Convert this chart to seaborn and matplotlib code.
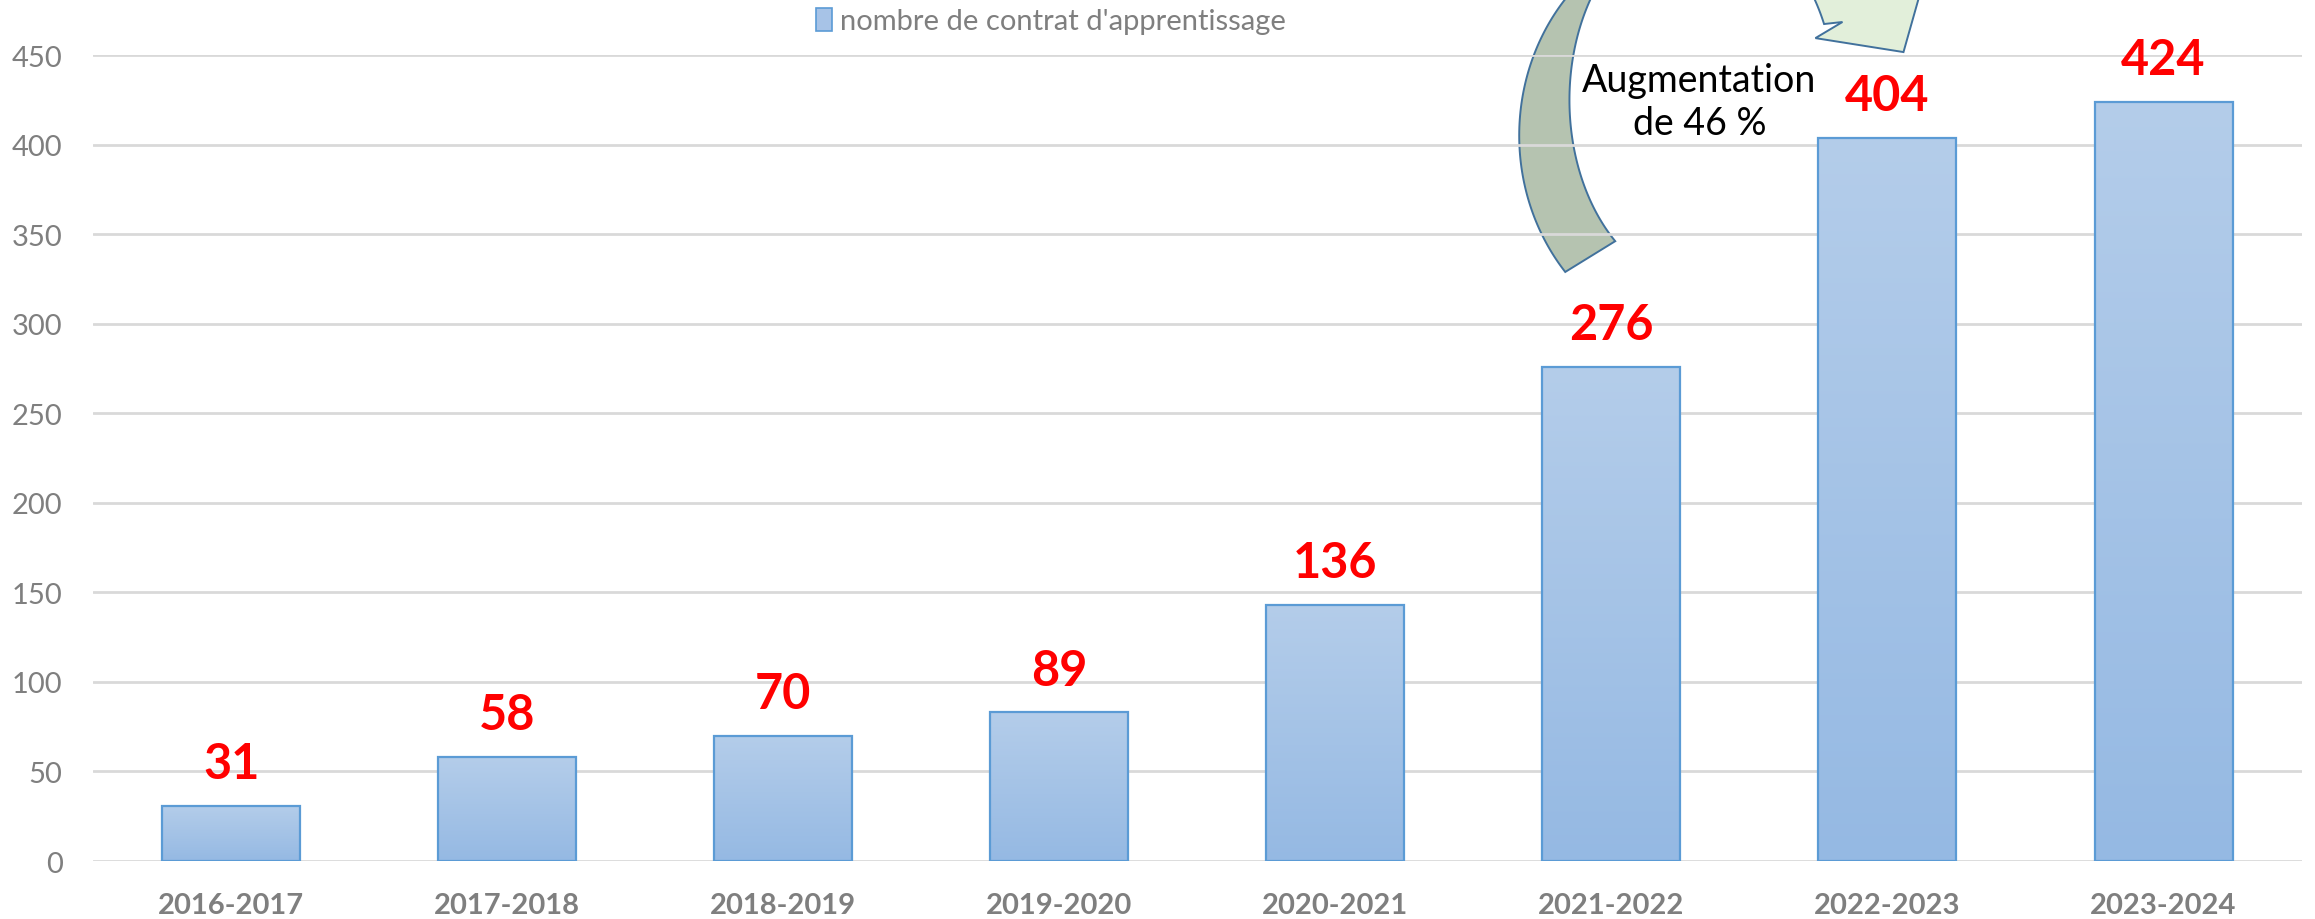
import numpy as np
import matplotlib.pyplot as plt
import matplotlib.patches as mpatches
from matplotlib.colors import LinearSegmentedColormap
import pandas as pd
import seaborn as sns

# Données
annees = ['2016-2017', '2017-2018', '2018-2019', '2019-2020',
          '2020-2021', '2021-2022', '2022-2023', '2023-2024']
contrats = [31, 58, 70, 83, 143, 276, 404, 424]
etiquettes = [31, 58, 70, 89, 136, 276, 404, 424]
legende = "nombre de contrat d'apprentissage"
texte_fleche = 'Augmentation\nde 46 %'

sns.set_style('white')
plt.rcParams['font.family'] = ['Lato', 'DejaVu Sans']

df = pd.DataFrame({'annee': annees, 'contrats': contrats})

fig = plt.figure(figsize=(23.15, 9.2), dpi=100)
ax = fig.add_axes([0.0402, 0.063, 0.954, 0.876])

sns.barplot(data=df, x='annee', y='contrats', width=0.5, color='#a5c2e6',
            edgecolor='#5b9bd5', linewidth=1.6, ax=ax)

# Dégradé vertical dans chaque barre (clair en haut, plus foncé en bas)
cmap = LinearSegmentedColormap.from_list('bleu', ['#95b9e3', '#b4cdea'])
grad = np.linspace(0, 1, 256).reshape(-1, 1)
for bar in ax.patches:
    x0, w, h = bar.get_x(), bar.get_width(), bar.get_height()
    im = ax.imshow(grad, extent=[x0, x0 + w, 0, h], origin='lower', cmap=cmap,
                   aspect='auto', zorder=2, interpolation='bilinear')
    im.set_clip_path(bar)
    bar.set_facecolor('none')
    bar.set_zorder(3)

ax.set_xlim(-0.5, 7.5)
ax.set_ylim(0, 450)
ax.set_yticks(range(0, 451, 50))
ax.yaxis.grid(True, color='#d9d9d9', linewidth=2)
ax.set_axisbelow(True)
sns.despine(ax=ax, left=True, bottom=True)
ax.set_xlabel('')
ax.set_ylabel('')
ax.tick_params(axis='y', length=0, labelsize=21, labelcolor='#7f7f7f', pad=22)
ax.tick_params(axis='x', length=0, labelsize=21, labelcolor='#7f7f7f', pad=22)
for lab in ax.get_xticklabels():
    lab.set_fontweight('bold')

# Valeurs en rouge au-dessus des barres
for i, (v, lab) in enumerate(zip(contrats, etiquettes)):
    ax.annotate(str(lab), (i, v), xytext=(0, 20), textcoords='offset points',
                ha='center', va='baseline', color='#ff0000', fontsize=35,
                fontweight='bold', annotation_clip=False, zorder=5)


# Flèche circulaire (forme décorative)
def arc(cx, cy, a, b, t0, t1, n=120):
    t = np.radians(np.linspace(t0, t1, n))
    return np.column_stack([cx + a * np.cos(t), cy + b * np.sin(t)])


ext = (5.362, 405.1, 0.696, 117.3)
intr = (5.330, 424.9, 0.482, 104.4)

partie_gauche = np.vstack([arc(*ext, 90, 220.5), arc(*intr, 229, 90)])
tete = np.array([[6.138, 495.3], [6.058, 451.7], [5.739, 459.5], [5.837, 468.5]])
partie_droite = np.vstack([arc(*ext, 90, 50), tete, arc(*intr, 24, 90)])

for pts, fc in [(partie_gauche, '#b5c3b0'), (partie_droite, '#e2efda')]:
    ax.add_patch(mpatches.Polygon(pts, closed=True, facecolor=fc, edgecolor='#41719c',
                                  linewidth=1.4, clip_on=False, zorder=0.3))

ax.text(5.319, 424.3, texte_fleche, ha='center', va='center', fontsize=27,
        color='black', linespacing=1.25, zorder=6)

# Légende en haut
handle = mpatches.Patch(facecolor='#a7c3e7', edgecolor='#5b9bd5', linewidth=1.2)
leg = fig.legend([handle], [legende], loc='center', bbox_to_anchor=(0.454, 1 - 22 / 920),
                 frameon=False, fontsize=21, handlelength=0.55, handleheight=0.85,
                 handletextpad=0.25)
for t in leg.get_texts():
    t.set_color('#7f7f7f')

fig.savefig('out.png', dpi=100)
